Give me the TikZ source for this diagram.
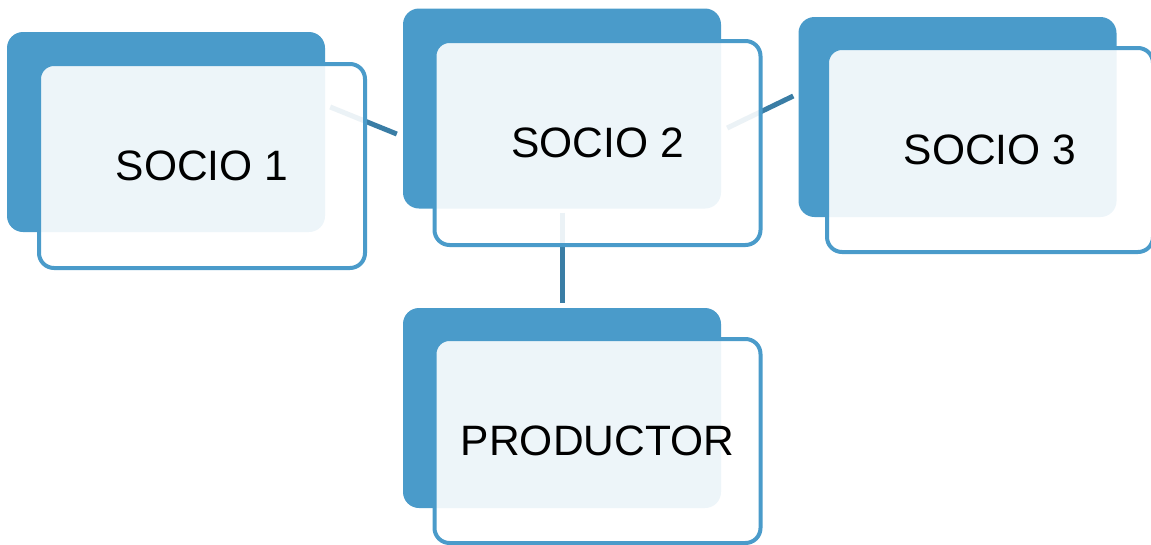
\documentclass[tikz,border=0pt]{standalone}
\usepackage{fontspec}
\setmainfont{Liberation Sans}
\usepackage{tikz}
\usetikzlibrary{calc}
\definecolor{cblock}{HTML}{4A9BCA}
\definecolor{clink}{HTML}{3A7DA5}
\tikzset{
  backn/.style={rectangle, rounded corners=16pt, fill=cblock, draw=none, minimum width=318pt, minimum height=200pt, inner sep=0pt},
  frontn/.style={rectangle, rounded corners=15pt, draw=cblock, line width=4pt, fill=white, fill opacity=0.9, text opacity=1, minimum width=326pt, minimum height=204pt, inner sep=0pt, font=\fontsize{42.5}{50}\selectfont},
  link/.style={draw=clink, line width=5pt},
}

\begin{document}
\begin{tikzpicture}[x=1pt,y=-1pt]
\useasboundingbox (0,0) rectangle (1151,544);
% ---------------- back blocks
\node[backn] (s1b) at (166,132) {};
\node[backn] (s2b) at (562,108.5) {};
\node[backn] (s3b) at (957.5,117) {};
\node[backn] (prb) at (562,408) {};
% ---------------- connectors (run under the front cards)
\draw[link] ($(s1b.east)+(5,-25)$) -- ($(s2b.west)+(-6,25.5)$);
\draw[link] ($(s2b.east)+(6,19.5)$) -- ($(s3b.west)+(-5,-21)$);
\draw[link] ($(s2b.south)+(0,4)$) -- ($(prb.north)+(0,-5)$);
% ---------------- front cards
\node[frontn] (s1) at (202,166) {SOCIO 1};
\node[frontn] (s2) at (597.5,143) {SOCIO 2};
\node[frontn] (s3) at (990,150) {SOCIO 3};
\node[frontn] (pr) at (597.5,441) {PRODUCTOR};
\end{tikzpicture}
\end{document}
